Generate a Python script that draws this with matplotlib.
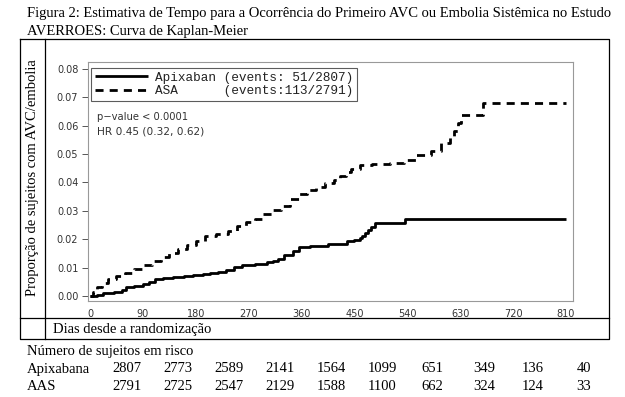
import matplotlib
matplotlib.use("Agg")
import matplotlib.pyplot as plt
from matplotlib.lines import Line2D

# ---- data ----
apx_days = [0, 12, 22, 40, 55, 62, 75, 90, 100, 110, 125, 141, 160, 175, 192, 205,
            218, 232, 245, 259, 280, 301, 311, 320, 330, 345, 355, 375, 405, 437,
            450, 459, 463, 468, 473, 478, 485, 536, 810]
apx_vals = [0.0, 0.0005, 0.001, 0.0015, 0.002, 0.003, 0.0035, 0.0042, 0.005, 0.006,
            0.0064, 0.0068, 0.007, 0.0074, 0.0078, 0.0082, 0.0086, 0.0092, 0.0102,
            0.0108, 0.0112, 0.0118, 0.0124, 0.0132, 0.0145, 0.0158, 0.0172, 0.0176,
            0.0182, 0.0192, 0.0198, 0.0205, 0.0212, 0.0222, 0.0232, 0.0242, 0.0258,
            0.0270, 0.0270]

asa_days = [0, 5, 12, 20, 30, 45, 60, 75, 90, 105, 120, 135, 150, 165, 180, 195, 215,
            235, 250, 265, 280, 295, 310, 325, 340, 355, 370, 385, 400, 415, 425, 435,
            445, 460, 480, 510, 535, 555, 580, 598, 612, 620, 626, 632, 668, 810]
asa_vals = [0.0, 0.0015, 0.003, 0.0045, 0.006, 0.0072, 0.0082, 0.0095, 0.0108, 0.0125,
            0.0138, 0.015, 0.0165, 0.0178, 0.0195, 0.021, 0.022, 0.023, 0.0248,
            0.026, 0.0272, 0.0287, 0.0302, 0.0318, 0.034, 0.0358, 0.0372, 0.0385,
            0.0398, 0.0408, 0.0422, 0.0437, 0.0447, 0.046, 0.0465, 0.047, 0.048,
            0.0495, 0.0512, 0.054, 0.056, 0.058, 0.061, 0.0637, 0.068, 0.068]

x_ticks = [0, 90, 180, 270, 360, 450, 540, 630, 720, 810]
y_ticks = [0.00, 0.01, 0.02, 0.03, 0.04, 0.05, 0.06, 0.07, 0.08]

risk_apx = [2807, 2773, 2589, 2141, 1564, 1099, 651, 349, 136, 40]
risk_aas = [2791, 2725, 2547, 2129, 1588, 1100, 662, 324, 124, 33]
risk_x_px = [127, 178, 229, 280, 331, 382, 432, 484, 533, 584]

legend_labels = ["Apixaban (events: 51/2807)", "ASA      (events:113/2791)"]

W, H = 625, 397
fig = plt.figure(figsize=(W / 100, H / 100), dpi=100)
fig.patch.set_facecolor("white")

def fx(px):
    return px / W

def fy(py):
    return 1 - py / H

serif = "Liberation Serif"
FS = 10.5

# title
fig.text(fx(27), fy(14), "Figura 2: Estimativa de Tempo para a Ocorrência do Primeiro AVC ou Embolia Sistêmica no Estudo",
         family=serif, fontsize=FS, va="center", ha="left")
fig.text(fx(27), fy(31), "AVERROES: Curva de Kaplan-Meier",
         family=serif, fontsize=FS, va="center", ha="left")

# outer frame and dividers
frame_kw = dict(color="black", lw=0.9, transform=fig.transFigure)
fig.add_artist(Line2D([fx(20), fx(609), fx(609), fx(20), fx(20)],
                      [fy(39), fy(39), fy(339), fy(339), fy(39)], **frame_kw))
fig.add_artist(Line2D([fx(45), fx(45)], [fy(39), fy(339)], **frame_kw))
fig.add_artist(Line2D([fx(20), fx(609)], [fy(318), fy(318)], **frame_kw))

# axes
ax = fig.add_axes([fx(88), fy(301), (573 - 88) / W, (301 - 62) / H])
ax.step(apx_days, apx_vals, where="post", color="black", lw=2.0,
        solid_capstyle="butt", label=legend_labels[0])
ax.step(asa_days, asa_vals, where="post", color="black", lw=2.0,
        linestyle=(0, (2.9, 2.2)), dash_capstyle="butt", label=legend_labels[1])

ax.set_xlim(-3.4, 822)
ax.set_ylim(-0.00176, 0.0824)
ax.set_xticks(x_ticks)
ax.set_xticklabels([str(t) for t in x_ticks])
ax.set_yticks(y_ticks)
ax.set_yticklabels([f"{t:.2f}" for t in y_ticks])
ax.tick_params(axis="both", labelsize=7, colors="#555555", labelcolor="#333333",
               length=4, width=0.7, pad=3)
ax.tick_params(axis="x", length=0, pad=6)
for sp in ax.spines.values():
    sp.set_color("#999999")
    sp.set_linewidth(0.8)

leg = ax.legend(loc="upper left", bbox_to_anchor=(0.006, 0.975), borderaxespad=0,
                prop={"family": "Liberation Mono", "size": 9.2}, handlelength=4.2,
                handletextpad=0.5, labelspacing=0.1, borderpad=0.3,
                fancybox=False, frameon=True)
leg.get_frame().set_edgecolor("#333333")
leg.get_frame().set_linewidth(0.8)
for t in leg.get_texts():
    t.set_color("#222222")

ax.text(fx(97), fy(117), "p\u2212value < 0.0001", transform=fig.transFigure,
        fontsize=7.2, color="#333333", va="center", ha="left")
ax.text(fx(97), fy(131), "HR 0.45 (0.32, 0.62)", transform=fig.transFigure,
        fontsize=7.6, color="#333333", va="center", ha="left")

# axis labels
fig.text(fx(33), fy(178), "Proporção de sujeitos com AVC/embolia", family=serif,
         fontsize=FS, rotation=90, va="center", ha="center")
fig.text(fx(53), fy(329), "Dias desde a randomização", family=serif,
         fontsize=FS, va="center", ha="left")

# number at risk table
fig.text(fx(27), fy(351), "Número de sujeitos em risco", family=serif,
         fontsize=FS, va="center", ha="left")
fig.text(fx(27), fy(369), "Apixabana", family=serif, fontsize=FS, va="center", ha="left")
fig.text(fx(27), fy(387), "AAS", family=serif, fontsize=FS, va="center", ha="left")
for xp, a, b in zip(risk_x_px, risk_apx, risk_aas):
    fig.text(fx(xp), fy(369), str(a), family=serif, fontsize=FS, va="center", ha="center")
    fig.text(fx(xp), fy(387), str(b), family=serif, fontsize=FS, va="center", ha="center")

fig.savefig("out.png", dpi=100, facecolor="white")
